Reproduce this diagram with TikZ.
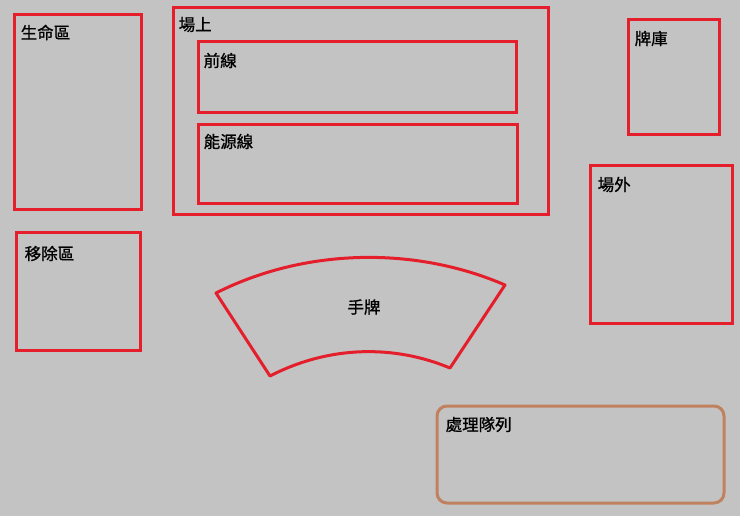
\documentclass[tikz,border=0pt]{standalone}
\usepackage{fontspec}
\usepackage{tikz}
\usetikzlibrary{positioning}
\newfontfamily\cjk[AutoFakeBold=1]{Noto Sans CJK TC}
\definecolor{boardgray}{HTML}{C3C3C3}
\definecolor{zonered}{HTML}{E41E2B}
\definecolor{queuebrown}{HTML}{C0825E}
\tikzstyle{zone} = [rectangle, draw=zonered, line width=3pt, inner sep=0pt]
\tikzstyle{queue} = [rectangle, draw=queuebrown, line width=3pt, rounded corners=10pt, inner sep=0pt]
\tikzstyle{tag} = [anchor=west, inner sep=0pt, font=\cjk\bfseries\fontsize{16.5}{19}\selectfont]

\begin{document}
\begin{tikzpicture}[x=1pt, y=-1pt]
    % Background
    \fill[boardgray] (0,0) rectangle (740,516);
    % Place zones
    \node [zone, minimum width=127pt, minimum height=195pt] (life) at (77.5,112.5) {};
    \node [zone, minimum width=375pt, minimum height=207pt] (field) at (360.5,111.5) {};
    \node [zone, minimum width=318pt, minimum height=71pt] (front) at (357,77.5) {};
    \node [zone, minimum width=319pt, minimum height=79pt] (energy) at (357.5,164.5) {};
    \node [zone, minimum width=91pt, minimum height=115pt] (deck) at (673.5,77.5) {};
    \node [zone, minimum width=142pt, minimum height=157pt] (outside) at (661,244.5) {};
    \node [zone, minimum width=124pt, minimum height=117pt] (removed) at (78,291.5) {};
    \node [queue, minimum width=287pt, minimum height=97pt] (process) at (580.5,454.5) {};
    % Labels
    \node [tag, xshift=8pt, yshift=-19pt] at (life.north west) {生命區};
    \node [tag, xshift=7pt, yshift=-18pt] at (field.north west) {場上};
    \node [tag, xshift=7pt, yshift=-20pt] at (front.north west) {前線};
    \node [tag, xshift=7pt, yshift=-18pt] at (energy.north west) {能源線};
    \node [tag, xshift=8pt, yshift=-20pt] at (deck.north west) {牌庫};
    \node [tag, xshift=9pt, yshift=-20pt] at (outside.north west) {場外};
    \node [tag, xshift=10pt, yshift=-22pt] at (removed.north west) {移除區};
    \node [tag, xshift=10pt, yshift=-20pt] at (process.north west) {處理隊列};
    % Hand fan
    \coordinate (hand-tl) at (216,293);
    \coordinate (hand-tr) at (505,285);
    \coordinate (hand-br) at (450,368);
    \coordinate (hand-bl) at (270,376);
    \draw [zonered, line width=3pt, line join=round]
        (hand-tl) .. controls (305,248) and (415,246) .. (hand-tr)
        -- (hand-br) .. controls (395,345) and (330,345) .. (hand-bl) -- cycle;
    \node [tag, anchor=center] (hand) at (364,307) {手牌};
\end{tikzpicture}
\end{document}
